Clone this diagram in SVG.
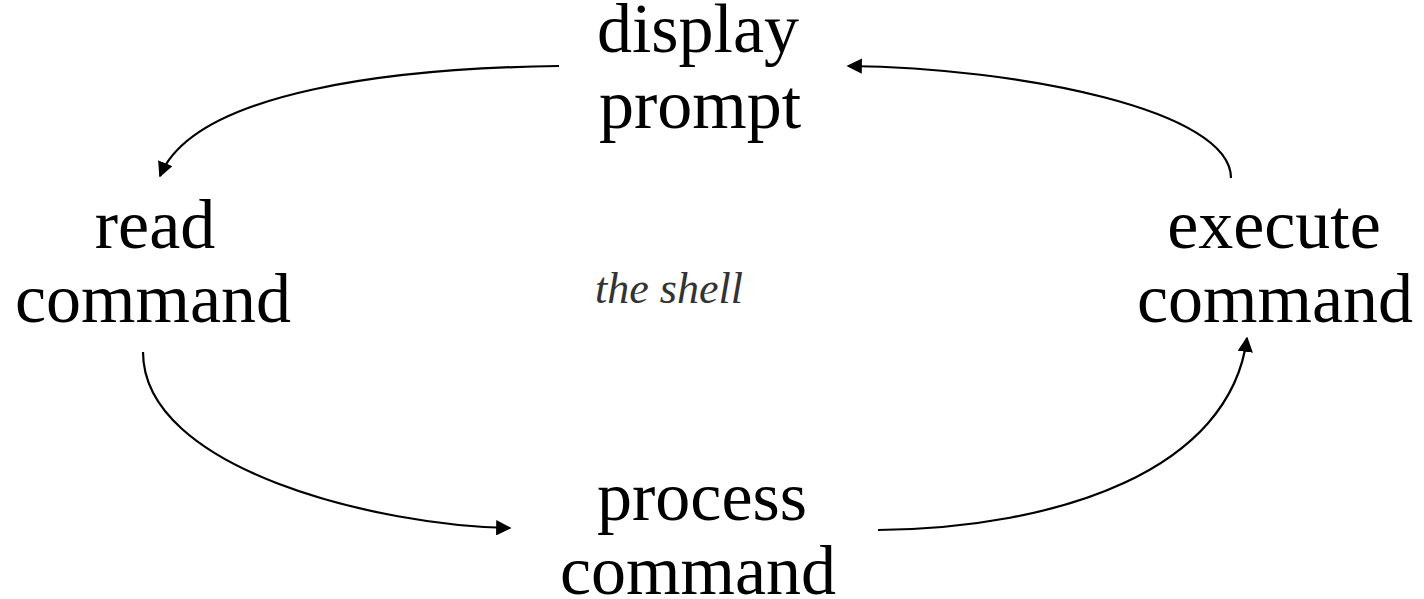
<svg xmlns="http://www.w3.org/2000/svg" width="1424" height="599" viewBox="0 0 1424 599">
<style>
.n{font-family:"Liberation Serif",serif;font-size:70px;fill:#000;text-anchor:middle}
.c{fill:none;stroke:#000;stroke-width:2.2}
.lbl{font-family:"Liberation Serif",serif;font-style:italic;font-size:44px;fill:#333;text-anchor:middle}
</style>
<defs>
<marker id="ah" viewBox="0 0 10 10" refX="9" refY="5" markerWidth="7" markerHeight="7" markerUnits="strokeWidth" orient="auto">
<path d="M0,0 L10,5 L0,10 z" fill="#000"/>
</marker>
</defs>
<rect width="1424" height="599" fill="#fff"/>
<g id="connectors">
<path class="c" d="M559,66 C400,68 195,90 160,176" marker-end="url(#ah)"/>
<path class="c" d="M1231,178 C1231,110 1020,68 848,66" marker-end="url(#ah)"/>
<path class="c" d="M143,352 C143,470 380,526 510,528" marker-end="url(#ah)"/>
<path class="c" d="M878,530 C1060,528 1230,470 1247,338" marker-end="url(#ah)"/>
</g>
<g id="display-prompt"><text class="n" x="698" y="52">display</text><text class="n" x="700" y="128">prompt</text></g>
<g id="read-command"><text class="n" x="155" y="248">read</text><text class="n" x="153" y="322">command</text></g>
<g id="execute-command"><text class="n" x="1274" y="248">execute</text><text class="n" x="1275" y="322">command</text></g>
<g id="process-command"><text class="n" x="702" y="520">process</text><text class="n" x="698" y="594">command</text></g>
<g id="label"><text class="lbl" x="669" y="303">the shell</text></g>
</svg>
